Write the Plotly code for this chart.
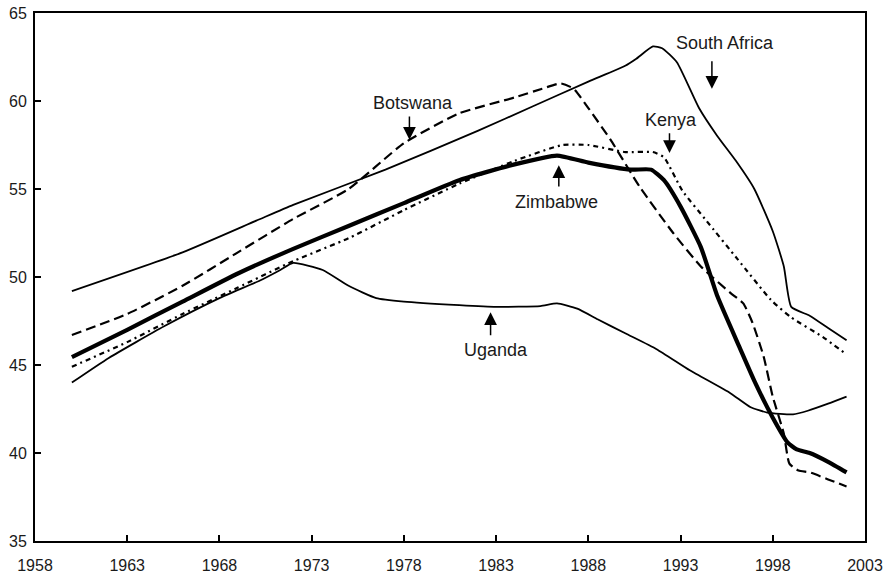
import plotly.graph_objects as go

# Life expectancy at birth (years), selected southern/eastern African countries
sa_years = [1960, 1966, 1970, 1972, 1977, 1982, 1985, 1988, 1990, 1990.6, 1991.5, 1992, 1992.8,
            1994, 1995, 1996, 1997, 1998, 1998.6, 1999, 2000, 2001, 2002]
sa_vals = [49.2, 51.4, 53.2, 54.1, 56.1, 58.3, 59.7, 61.1, 62.0, 62.4, 63.1, 63.0, 62.2,
           59.6, 58.0, 56.6, 55.0, 52.6, 50.6, 48.3, 47.8, 47.1, 46.4]

bw_years = [1960, 1963, 1966, 1969, 1972, 1975, 1978, 1981, 1984, 1985.5, 1986.5, 1987.2, 1988,
            1989.2, 1990.8, 1992.6, 1994.1, 1995.7, 1996.4, 1996.9, 1997.5, 1998, 1998.6, 1998.9,
            1999.4, 2000, 2001, 2002]
bw_vals = [46.7, 47.9, 49.5, 51.4, 53.3, 55.0, 57.6, 59.3, 60.2, 60.7, 61.0, 60.7, 59.6,
           57.8, 55.1, 52.5, 50.6, 49.1, 48.5, 47.4, 45.5, 43.2, 41.1, 39.4,
           39.0, 38.9, 38.5, 38.1]

zw_years = [1960, 1963, 1966, 1969, 1972, 1975, 1978, 1981, 1984, 1986.3, 1988, 1990.3, 1991.4,
            1992.1, 1993, 1994.1, 1995, 1996.2, 1997, 1998, 1998.8, 1999.3, 2000, 2001, 2002]
zw_vals = [45.45, 47.0, 48.6, 50.2, 51.6, 52.9, 54.2, 55.5, 56.4, 56.9, 56.5, 56.1, 56.1,
           55.5, 54.0, 51.7, 48.9, 46.0, 44.1, 42.0, 40.6, 40.2, 40.0, 39.5, 38.9]

ke_years = [1960, 1963, 1966, 1969, 1972, 1975, 1978, 1981, 1984, 1986.6, 1988, 1990, 1991.5,
            1992.1, 1993.1, 1994.4, 1996.1, 1997.9, 1999, 2000.7, 2002]
ke_vals = [44.9, 46.3, 47.9, 49.4, 50.9, 52.2, 53.8, 55.3, 56.6, 57.5, 57.5, 57.1, 57.1,
           56.8, 54.9, 53.2, 51.0, 48.7, 47.7, 46.6, 45.6]

ug_years = [1960, 1962, 1965, 1968, 1970.2, 1971.3, 1972, 1973.6, 1975, 1976.5, 1978, 1981, 1983,
            1985.4, 1986.3, 1987.4, 1988.5, 1990, 1991.7, 1993.5, 1995.7, 1996.8, 1997.7, 1999.1,
            1999.9, 2001, 2002]
ug_vals = [44.0, 45.4, 47.2, 48.8, 49.8, 50.4, 50.8, 50.4, 49.5, 48.8, 48.6, 48.4, 48.3,
           48.35, 48.5, 48.2, 47.6, 46.8, 45.9, 44.7, 43.4, 42.6, 42.3, 42.2,
           42.4, 42.8, 43.2]

x_ticks = [1958, 1963, 1968, 1973, 1978, 1983, 1988, 1993, 1998, 2003]
y_ticks = [35, 40, 45, 50, 55, 60, 65]

FONT = "Liberation Sans, Arial, sans-serif"
INK = "#1a1a1a"

fig = go.Figure()

series = [
    ("South Africa", sa_years, sa_vals, dict(color="black", width=1.8, dash="solid")),
    ("Botswana", bw_years, bw_vals, dict(color="black", width=2.2, dash="10px,5px")),
    ("Kenya", ke_years, ke_vals, dict(color="black", width=2.2, dash="5px,4px,2px,4px")),
    ("Uganda", ug_years, ug_vals, dict(color="black", width=1.8, dash="solid")),
    ("Zimbabwe", zw_years, zw_vals, dict(color="black", width=4.2, dash="solid")),
]
for name, xs, ys, ln in series:
    fig.add_trace(go.Scatter(x=xs, y=ys, mode="lines", name=name,
                             line=dict(shape="spline", smoothing=0.5, **ln)))

# label text and arrow (text centre, arrow tail, arrow head) for each country
labels = [
    ("Botswana", 1978.5, 59.9, 1978.3, 59.2, 57.8),
    ("Zimbabwe", 1986.3, 54.25, 1986.4, 55.05, 56.35),
    ("Uganda", 1983.0, 45.85, 1982.7, 46.6, 48.0),
    ("Kenya", 1992.5, 58.9, 1992.4, 58.25, 57.05),
    ("South Africa", 1995.4, 63.3, 1994.7, 62.35, 60.7),
]
for text, tx, ty, axx, tail, head in labels:
    fig.add_annotation(x=tx, y=ty, text=text, showarrow=False,
                       font=dict(family=FONT, size=18, color=INK))
    fig.add_annotation(x=axx, y=head, ax=axx, ay=tail, axref="x", ayref="y",
                       text="", showarrow=True, arrowhead=2, arrowsize=1.7,
                       arrowwidth=1.5, arrowcolor="black")

axis_common = dict(showline=True, linecolor="black", linewidth=2, mirror=True,
                   ticks="inside", ticklen=6, tickwidth=2, tickcolor="black",
                   showgrid=False, zeroline=False, automargin=False,
                   tickfont=dict(family=FONT, size=16, color=INK))

fig.update_xaxes(range=[1958, 2003], tickvals=x_ticks, ticklabelstandoff=9, **axis_common)
fig.update_yaxes(range=[35, 65], tickvals=y_ticks, ticklabelstandoff=3, **axis_common)

fig.update_layout(width=888, height=577, showlegend=False,
                  plot_bgcolor="white", paper_bgcolor="white",
                  margin=dict(l=35, r=23, t=13, b=36))

fig.write_html("out.html")
